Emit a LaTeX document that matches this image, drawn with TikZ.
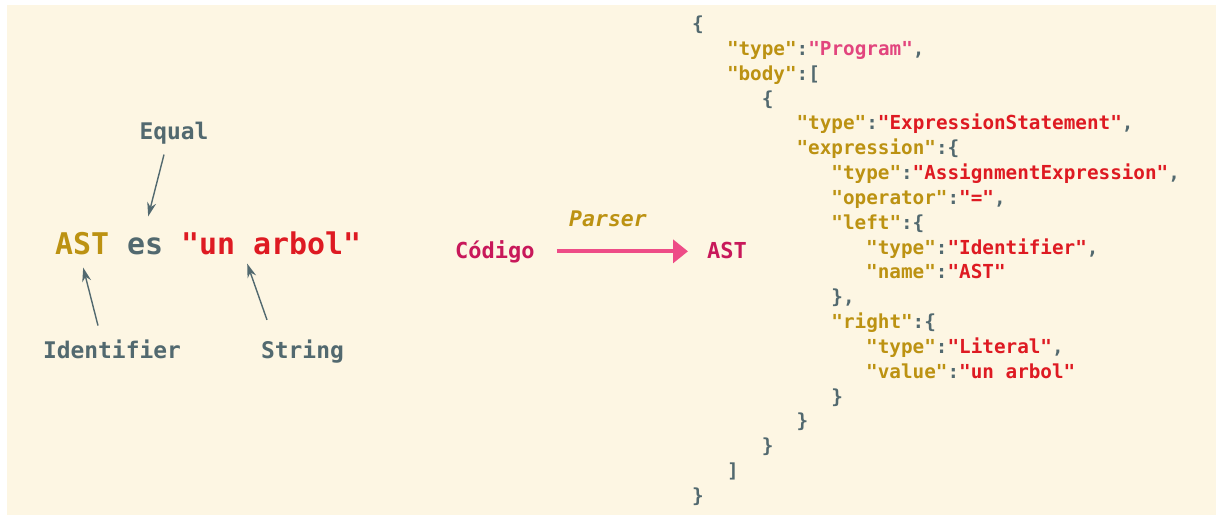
\documentclass[tikz,border=0pt]{standalone}
\usepackage{fontspec}
\setmonofont{DejaVu Sans Mono}
\usepackage{tikz}
\usetikzlibrary{arrows.meta}

\definecolor{bgcream}{HTML}{FDF6E3}
\definecolor{slate}{HTML}{52696F}
\definecolor{keygold}{HTML}{BC9212}
\definecolor{strred}{HTML}{DE1A22}
\definecolor{progpink}{HTML}{E2457E}
\definecolor{crimson}{HTML}{C8185A}
\definecolor{arrowpink}{HTML}{EE4C87}

\newcommand{\jkey}[1]{\textcolor{keygold}{"#1"}}
\newcommand{\jstr}[1]{\textcolor{strred}{"#1"}}

\tikzset{
  code/.style={font=\ttfamily\bfseries\fontsize{19.3}{22}\selectfont, text=slate, anchor=base west, inner sep=0pt},
  bigword/.style={font=\ttfamily\bfseries\fontsize{29.9}{32}\selectfont, anchor=base west, inner sep=0pt},
  tag/.style={font=\ttfamily\bfseries\fontsize{22.9}{25}\selectfont, text=slate, anchor=base, inner sep=0pt},
  flow/.style={font=\ttfamily\bfseries\fontsize{22}{24}\selectfont, text=crimson, anchor=base west, inner sep=0pt},
  pointer/.style={draw=slate, line width=1.4pt, -{Stealth[length=14pt,width=9pt]}},
  parsearrow/.style={draw=arrowpink, line width=4pt, -{Triangle[length=15pt,width=23pt]}}
}

\begin{document}
\begin{tikzpicture}[x=1pt, y=-1pt]
			% Background
			\fill[white] (0,0) rectangle (1216,515);
			\fill[bgcream] (7,5) rectangle (1216,515);
			\useasboundingbox (0,0) rectangle (1216,515);

			% Define nodes: the sentence
			\node[bigword, text=keygold] (wast) at (55,254) {AST};
			\node[bigword, text=slate] (wes) at (127,254) {es};
			\node[bigword, text=strred] (wstr) at (181,254) {"un arbol"};
			\node[tag] (equal) at (174,139) {Equal};
			\node[tag] (ident) at (112,358) {Identifier};
			\node[tag] (string) at (302.5,358) {String};

			% Define nodes: the parser
			\node[flow] (codigo) at (455,258) {Código};
			\node[flow] (astout) at (707,258) {AST};
			\node[flow, anchor=base, text=keygold, font=\ttfamily\bfseries\itshape\fontsize{21.5}{24}\selectfont] (parser) at (608,226) {Parser};

			% Define nodes: the tree
			\node[code] (rootopen) at (692,30.5) {\{};
			\node[code] (progtype) at (726.8,55.3) {\jkey{type}:\textcolor{progpink}{"Program"},};
			\node[code] (body) at (726.8,80.2) {\jkey{body}:[};
			\node[code] (stmtopen) at (761.6,105.0) {\{};
			\node[code] (stmttype) at (796.4,129.9) {\jkey{type}:\jstr{ExpressionStatement},};
			\node[code] (expr) at (796.4,154.7) {\jkey{expression}:\{};
			\node[code] (exprtype) at (831.2,179.5) {\jkey{type}:\jstr{AssignmentExpression},};
			\node[code] (operator) at (831.2,204.4) {\jkey{operator}:\jstr{=},};
			\node[code] (left) at (831.2,229.2) {\jkey{left}:\{};
			\node[code] (lefttype) at (866,254.1) {\jkey{type}:\jstr{Identifier},};
			\node[code] (leftname) at (866,278.9) {\jkey{name}:\jstr{AST}};
			\node[code] (leftclose) at (831.2,303.7) {\},};
			\node[code] (right) at (831.2,328.6) {\jkey{right}:\{};
			\node[code] (righttype) at (866,353.4) {\jkey{type}:\jstr{Literal},};
			\node[code] (rightvalue) at (866,378.3) {\jkey{value}:\jstr{un arbol}};
			\node[code] (rightclose) at (831.2,403.1) {\}};
			\node[code] (exprclose) at (796.4,427.9) {\}};
			\node[code] (stmtclose) at (761.6,452.8) {\}};
			\node[code] (bodyclose) at (726.8,477.6) {]};
			\node[code] (rootclose) at (692,502.5) {\}};

			% Connect nodes
			\draw[pointer] ([shift={(-10,10.6)}]equal.south) -- ([shift={(3,-20.7)}]wes.north);
			\draw[pointer] ([shift={(-14,-13.6)}]ident.north) -- ([shift={(1,13)}]wast.south);
			\draw[pointer] ([shift={(-35.5,-19.3)}]string.north) -- ([shift={(-24,9)}]wstr.south);
			\draw[parsearrow] ([shift={(22,0)}]codigo.east) -- ([shift={(-19,0)}]codigo.east -| astout.west);
		\end{tikzpicture}
\end{document}
